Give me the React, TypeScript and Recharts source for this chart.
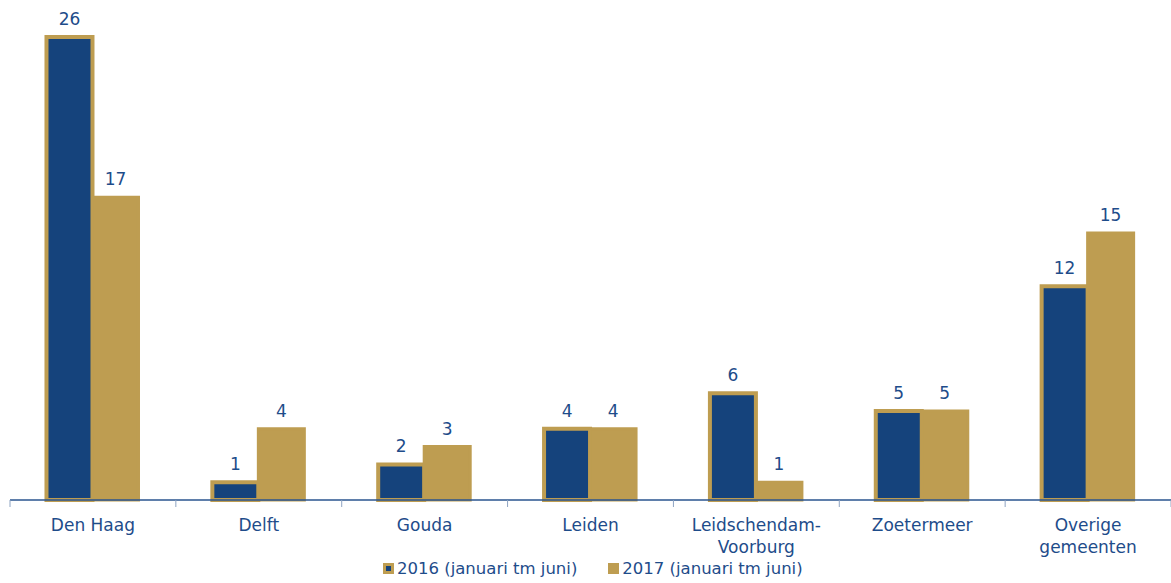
import { BarChart, Bar, XAxis, YAxis, LabelList } from "recharts";

const categories = [
  "Den Haag",
  "Delft",
  "Gouda",
  "Leiden",
  "Leidschendam-\nVoorburg",
  "Zoetermeer",
  "Overige\ngemeenten",
];
const values2016 = [26, 1, 2, 4, 6, 5, 12];
const values2017 = [17, 4, 3, 4, 1, 5, 15];
const seriesNames = ["2016 (januari tm juni)", "2017 (januari tm juni)"];

const data = categories.map((name, i) => ({
  name,
  y2016: values2016[i],
  y2017: values2017[i],
}));

const BLUE = "#15437C";
const GOLD = "#BE9D51";
const TEXT = "#1E4C8A";
const FONT = "'DejaVu Sans', Verdana, sans-serif";

const CategoryTick = ({ x, y, payload, index }: any) => {
  const band = 1161 / categories.length;
  const lines = String(payload.value).split("\n");
  return (
    <g>
      <line x1={x - band / 2} y1={y - 8} x2={x - band / 2} y2={y - 1} stroke="#8EA4C2" strokeWidth={1} />
      {index === categories.length - 1 && (
        <line x1={x + band / 2} y1={y - 8} x2={x + band / 2} y2={y - 1} stroke="#8EA4C2" strokeWidth={1} />
      )}
      {lines.map((l, i) => (
        <text
          key={i}
          x={x}
          y={y + 23 + i * 22}
          textAnchor="middle"
          fill={TEXT}
          fontSize={17}
          fontFamily={FONT}
        >
          {l}
        </text>
      ))}
    </g>
  );
};

export default function App() {
  return (
    <div style={{ position: "absolute", left: 0, top: 0, width: 1171, height: 583, background: "#fff" }}>
      <BarChart
        width={1171}
        height={583}
        data={data}
        margin={{ top: 37, right: 0, left: 10, bottom: 0 }}
        barGap={0}
        barCategoryGap="22%"
      >
        <XAxis
          dataKey="name"
          interval={0}
          height={83}
          axisLine={{ stroke: "#2A558F", strokeWidth: 1.5 }}
          tickLine={false}
          tick={<CategoryTick />}
        />
        <YAxis hide domain={[0, 26]} />
        <Bar dataKey="y2016" fill={BLUE} stroke={GOLD} strokeWidth={4} isAnimationActive={false}>
          <LabelList dataKey="y2016" position="top" offset={12} fill={TEXT} fontSize={17} fontFamily={FONT} />
        </Bar>
        <Bar dataKey="y2017" fill={GOLD} stroke={GOLD} strokeWidth={3} isAnimationActive={false}>
          <LabelList dataKey="y2017" position="top" offset={12} fill={TEXT} fontSize={17} fontFamily={FONT} />
        </Bar>
      </BarChart>
      <div
        style={{
          position: "absolute",
          top: 559,
          left: 383,
          display: "flex",
          alignItems: "center",
          fontFamily: FONT,
          fontSize: 16.5,
          color: TEXT,
          whiteSpace: "nowrap",
        }}
      >
        <span style={{ display: "inline-flex", alignItems: "center", justifyContent: "center", width: 11, height: 11, background: GOLD, marginRight: 3 }}>
          <span style={{ width: 5, height: 5, background: BLUE }} />
        </span>
        <span style={{ marginRight: 31 }}>{seriesNames[0]}</span>
        <span style={{ width: 11, height: 11, background: GOLD, marginRight: 3 }} />
        <span>{seriesNames[1]}</span>
      </div>
    </div>
  );
}
